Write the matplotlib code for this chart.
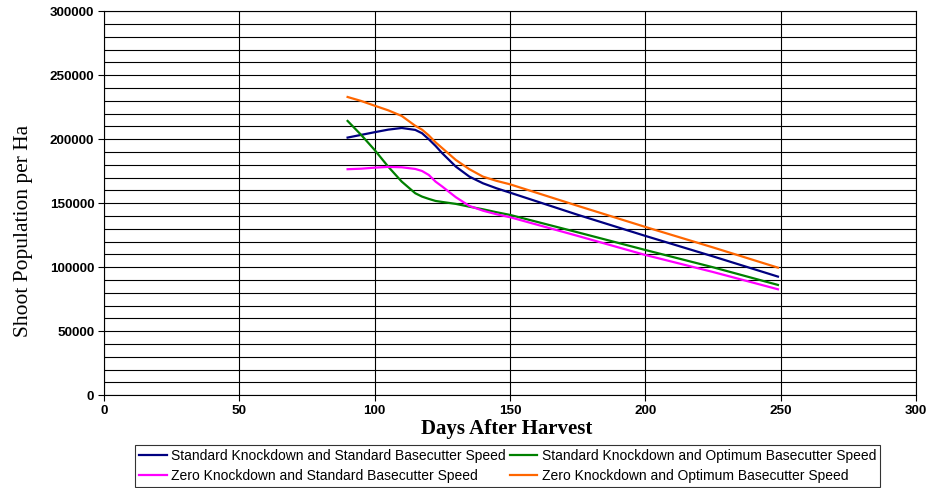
import matplotlib.pyplot as plt
from matplotlib.ticker import MultipleLocator

# values
days = [90, 95, 100, 105, 110, 115, 117.5, 120, 122.5, 125, 130, 135, 140, 145, 150,
        175, 200, 225, 249]

std_std = [201300, 203400, 205500, 207500, 208800, 207300, 204700, 200000, 194800,
           189000, 178600, 170800, 165600, 161700, 158300, 141000, 124500, 108500, 92700]
std_opt = [214300, 203400, 191600, 178600, 166900, 157800, 155200, 153400, 151800,
           151000, 149500, 147300, 145300, 143000, 140900, 127300, 113500, 100000, 86200]
zero_std = [176600, 177000, 177800, 178400, 178100, 176800, 175200, 172100, 166900,
            163000, 154700, 147900, 144200, 141400, 139100, 124500, 109600, 96300, 82800]
zero_opt = [233000, 229900, 226200, 222600, 218200, 210500, 207500, 203000, 197600,
            193000, 183800, 176600, 170800, 167500, 164800, 148000, 131500, 115500, 99700]

series = [
    ("Standard Knockdown and Standard Basecutter Speed", std_std, "#000080"),
    ("Standard Knockdown and Optimum Basecutter Speed", std_opt, "#008000"),
    ("Zero Knockdown and Standard Basecutter Speed", zero_std, "#FF00FF"),
    ("Zero Knockdown and Optimum Basecutter Speed", zero_opt, "#FF6600"),
]

fig = plt.figure(figsize=(9.32, 4.88), dpi=100)
ax = fig.add_axes([0.1116, 0.19, 0.8712, 0.787])

lines = []
for label, vals, col in series:
    ln, = ax.plot(days, vals, color=col, lw=1.6, label=label, zorder=3,
                  solid_joinstyle="round")
    lines.append(ln)

ax.set_xlim(0, 300)
ax.set_ylim(0, 300000)
ax.xaxis.set_major_locator(MultipleLocator(50))
ax.yaxis.set_major_locator(MultipleLocator(50000))
ax.yaxis.set_minor_locator(MultipleLocator(10000))

# grid: every 10000 on y, every 50 on x
ax.grid(True, which="both", axis="y", color="black", lw=0.8)
ax.grid(True, which="major", axis="x", color="black", lw=0.8)
ax.set_axisbelow(True)
for s in ax.spines.values():
    s.set_color("black")
    s.set_linewidth(0.8)

ax.tick_params(axis="both", which="major", direction="out", length=4, width=0.8,
               labelsize=9.7, pad=3)
ax.tick_params(axis="y", which="minor", length=0)
for t in ax.get_xticklabels() + ax.get_yticklabels():
    t.set_fontweight("bold")
    t.set_family("Liberation Sans")

ax.set_xlabel("Days After Harvest", family="Liberation Serif", fontweight="bold",
              fontsize=15)
ax.xaxis.set_label_coords(0.496, -0.062)
ax.set_ylabel("Shoot Population per Ha", family="Liberation Serif", fontsize=15.5)
ax.yaxis.set_label_coords(-0.088, 0.428)

# row-wise order like the reference (matplotlib fills columns first)
order = [0, 2, 1, 3]
leg = fig.legend([lines[i] for i in order], [series[i][0] for i in order],
                 loc="center", bbox_to_anchor=(0.5445, 0.045), ncol=2,
                 prop={"family": "Liberation Sans", "size": 10},
                 frameon=True, fancybox=False, edgecolor="black",
                 handlelength=2.0, handletextpad=0.3, columnspacing=0.3,
                 borderpad=0.3, labelspacing=0.4)
leg.get_frame().set_linewidth(0.8)

fig.savefig("out.png", dpi=100)
